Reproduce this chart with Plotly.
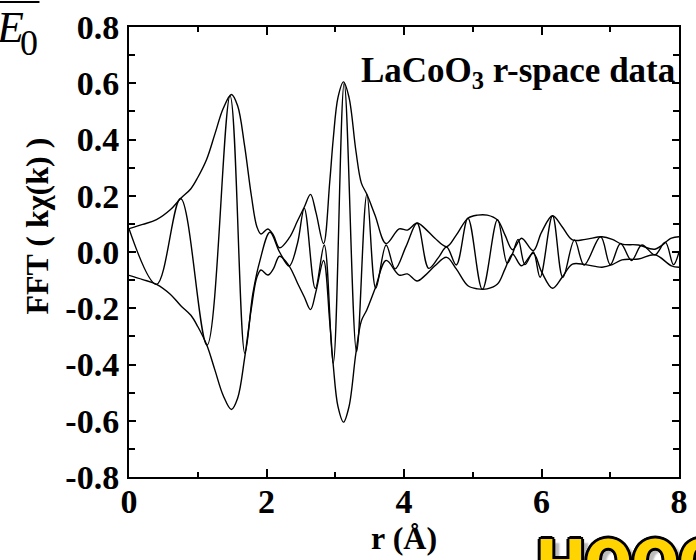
import plotly.graph_objects as go

# |FFT| magnitude of k*chi(k), sampled along r (Angstrom)
r_mag = [0.00, 0.20, 0.40, 0.60, 0.75, 0.90, 1.00, 1.13, 1.25, 1.37, 1.49, 1.58, 1.68, 1.78,
         1.86, 1.92, 2.02, 2.10, 2.19, 2.33, 2.45, 2.55, 2.64, 2.72, 2.83, 2.92, 2.97, 3.04,
         3.12, 3.20, 3.30, 3.38, 3.46, 3.58, 3.74, 3.93, 4.05, 4.19, 4.30, 4.45, 4.62, 4.76,
         4.93, 5.07, 5.21, 5.36, 5.47, 5.58, 5.71, 5.88, 6.00, 6.16, 6.30, 6.45, 6.64, 6.88,
         7.03, 7.17, 7.41, 7.65, 7.89, 8.00]
mag = [0.083, 0.098, 0.115, 0.150, 0.190, 0.225, 0.265, 0.330, 0.420, 0.510, 0.560, 0.520,
       0.380, 0.200, 0.090, 0.064, 0.082, 0.060, 0.015, 0.050, 0.110, 0.160, 0.205, 0.140,
       0.030, 0.250, 0.400, 0.550, 0.605, 0.550, 0.360, 0.245, 0.205, 0.130, 0.030, 0.082,
       0.078, 0.103, 0.085, 0.049, 0.019, 0.060, 0.120, 0.131, 0.131, 0.114, 0.060, 0.008,
       0.049, 0.005, 0.070, 0.129, 0.090, 0.043, 0.045, 0.054, 0.045, 0.028, 0.025, 0.010,
       0.049, 0.054]

# Real part of the transform
r_re = [0.00, 0.40, 0.75, 1.135, 1.47, 1.685, 1.80, 1.90, 2.05, 2.19, 2.33, 2.45, 2.55, 2.71,
        2.84, 2.97, 3.13, 3.31, 3.46, 3.59, 3.74, 3.87, 4.03, 4.19, 4.36, 4.50, 4.62, 4.76,
        4.93, 5.14, 5.36, 5.50, 5.58, 5.66, 5.76, 5.88, 5.98, 6.16, 6.31, 6.48, 6.62, 6.86,
        7.00, 7.15, 7.31, 7.46, 7.65, 7.80, 7.92, 8.00]
re = [0.083, -0.115, 0.190, -0.331, 0.555, -0.360, -0.150, -0.035, 0.070, 0.000, -0.050,
      0.030, 0.155, -0.130, 0.025, -0.396, 0.600, -0.354, 0.205, -0.129, 0.025, -0.060,
      0.020, 0.102, -0.058, -0.020, 0.018, -0.046, 0.120, -0.133, 0.115, -0.040, -0.005,
      0.045, -0.045, 0.000, -0.090, 0.129, -0.090, 0.043, -0.046, 0.054, -0.045, 0.030,
      -0.030, 0.025, -0.010, 0.035, -0.045, 0.000]

x_ticks = [0, 2, 4, 6, 8]
y_ticks = [-0.8, -0.6, -0.4, -0.2, 0.0, 0.2, 0.4, 0.6, 0.8]
y_tick_text = ["-0.8", "-0.6", "-0.4", "-0.2", "0.0", "0.2", "0.4", "0.6", "0.8"]

SERIF = "Liberation Serif, Times New Roman, serif"
line_style = dict(color="black", width=1.4, shape="spline", smoothing=1.0)

fig = go.Figure()
fig.add_trace(go.Scatter(x=r_mag, y=mag, mode="lines", line=line_style))
fig.add_trace(go.Scatter(x=r_mag, y=[-m for m in mag], mode="lines", line=line_style))
fig.add_trace(go.Scatter(x=r_re, y=re, mode="lines", line=line_style))

axis_common = dict(
    showline=True, linecolor="black", linewidth=2, mirror="allticks",
    ticks="inside", tickcolor="black", tickwidth=1.5, showgrid=False, zeroline=False,
    tickfont=dict(family=SERIF, size=34, color="black", weight="bold"),
)

fig.update_xaxes(range=[0, 8], tickvals=x_ticks, ticklen=8, ticklabelstandoff=-7,
                 minor=dict(dtick=1, ticks="inside", ticklen=5, tickcolor="black", tickwidth=1.5),
                 **axis_common)
fig.update_yaxes(range=[-0.8, 0.8], tickvals=y_ticks, ticktext=y_tick_text, ticklen=7,
                 ticklabelstandoff=1,
                 minor=dict(dtick=0.1, ticks="inside", ticklen=6, tickcolor="black", tickwidth=1.5),
                 **axis_common)

BADGE_SHADOW = ("3px 0 0 #000, -3px 0 0 #000, 0 3px 0 #000, 0 -3px 0 #000, "
                "2px 2px 0 #000, -2px -2px 0 #000, 2px -2px 0 #000, -2px 2px 0 #000, "
                "7px 4px 2px #bbb")

annotations = [
    dict(text="LaCoO<sub>3</sub> r-space data", xref="paper", yref="paper", x=0.997, y=0.9,
         xanchor="right", yanchor="middle", showarrow=False,
         font=dict(family=SERIF, size=35, color="black", weight="bold")),
    dict(text="r (Å)", xref="paper", yref="paper", x=0.5, y=-0.136, xanchor="center",
         yanchor="middle", showarrow=False,
         font=dict(family=SERIF, size=32, color="black", weight="bold")),
    dict(text="FFT ( kχ(k) )", xref="paper", yref="paper", x=-0.168, y=0.558, textangle=-90,
         xanchor="center", yanchor="middle", showarrow=False,
         font=dict(family=SERIF, size=32, color="black", weight="bold")),
    dict(text="<i>E</i>", xref="paper", yref="paper", x=(24 - 129) / 559, y=1.0,
         xanchor="right", yanchor="middle", showarrow=False,
         font=dict(family=SERIF, size=44, color="black")),
    dict(text="0", xref="paper", yref="paper", x=(16 - 129) / 559, y=1 - (43 - 27) / 450,
         xanchor="left", yanchor="middle", showarrow=False,
         font=dict(family=SERIF, size=36, color="black")),
    dict(text="HOOC", xref="paper", yref="paper", x=(542 - 129) / 559, y=-(565 - 477) / 450,
         xanchor="left", yanchor="middle", showarrow=False,
         font=dict(family="Roboto, Inter, sans-serif", size=68, color="#FFD400", weight=900,
                   shadow=BADGE_SHADOW)),
]

fig.update_layout(
    width=696, height=560,
    margin=dict(l=129, r=8, t=27, b=83),
    paper_bgcolor="white", plot_bgcolor="white",
    showlegend=False,
    annotations=annotations,
    shapes=[dict(type="line", xref="paper", yref="paper", x0=-0.25, x1=(38 - 129) / 559,
                 y0=1 + (27 - 2) / 450, y1=1 + (27 - 2) / 450,
                 line=dict(color="black", width=2))],
)

fig.write_html("out.html")
